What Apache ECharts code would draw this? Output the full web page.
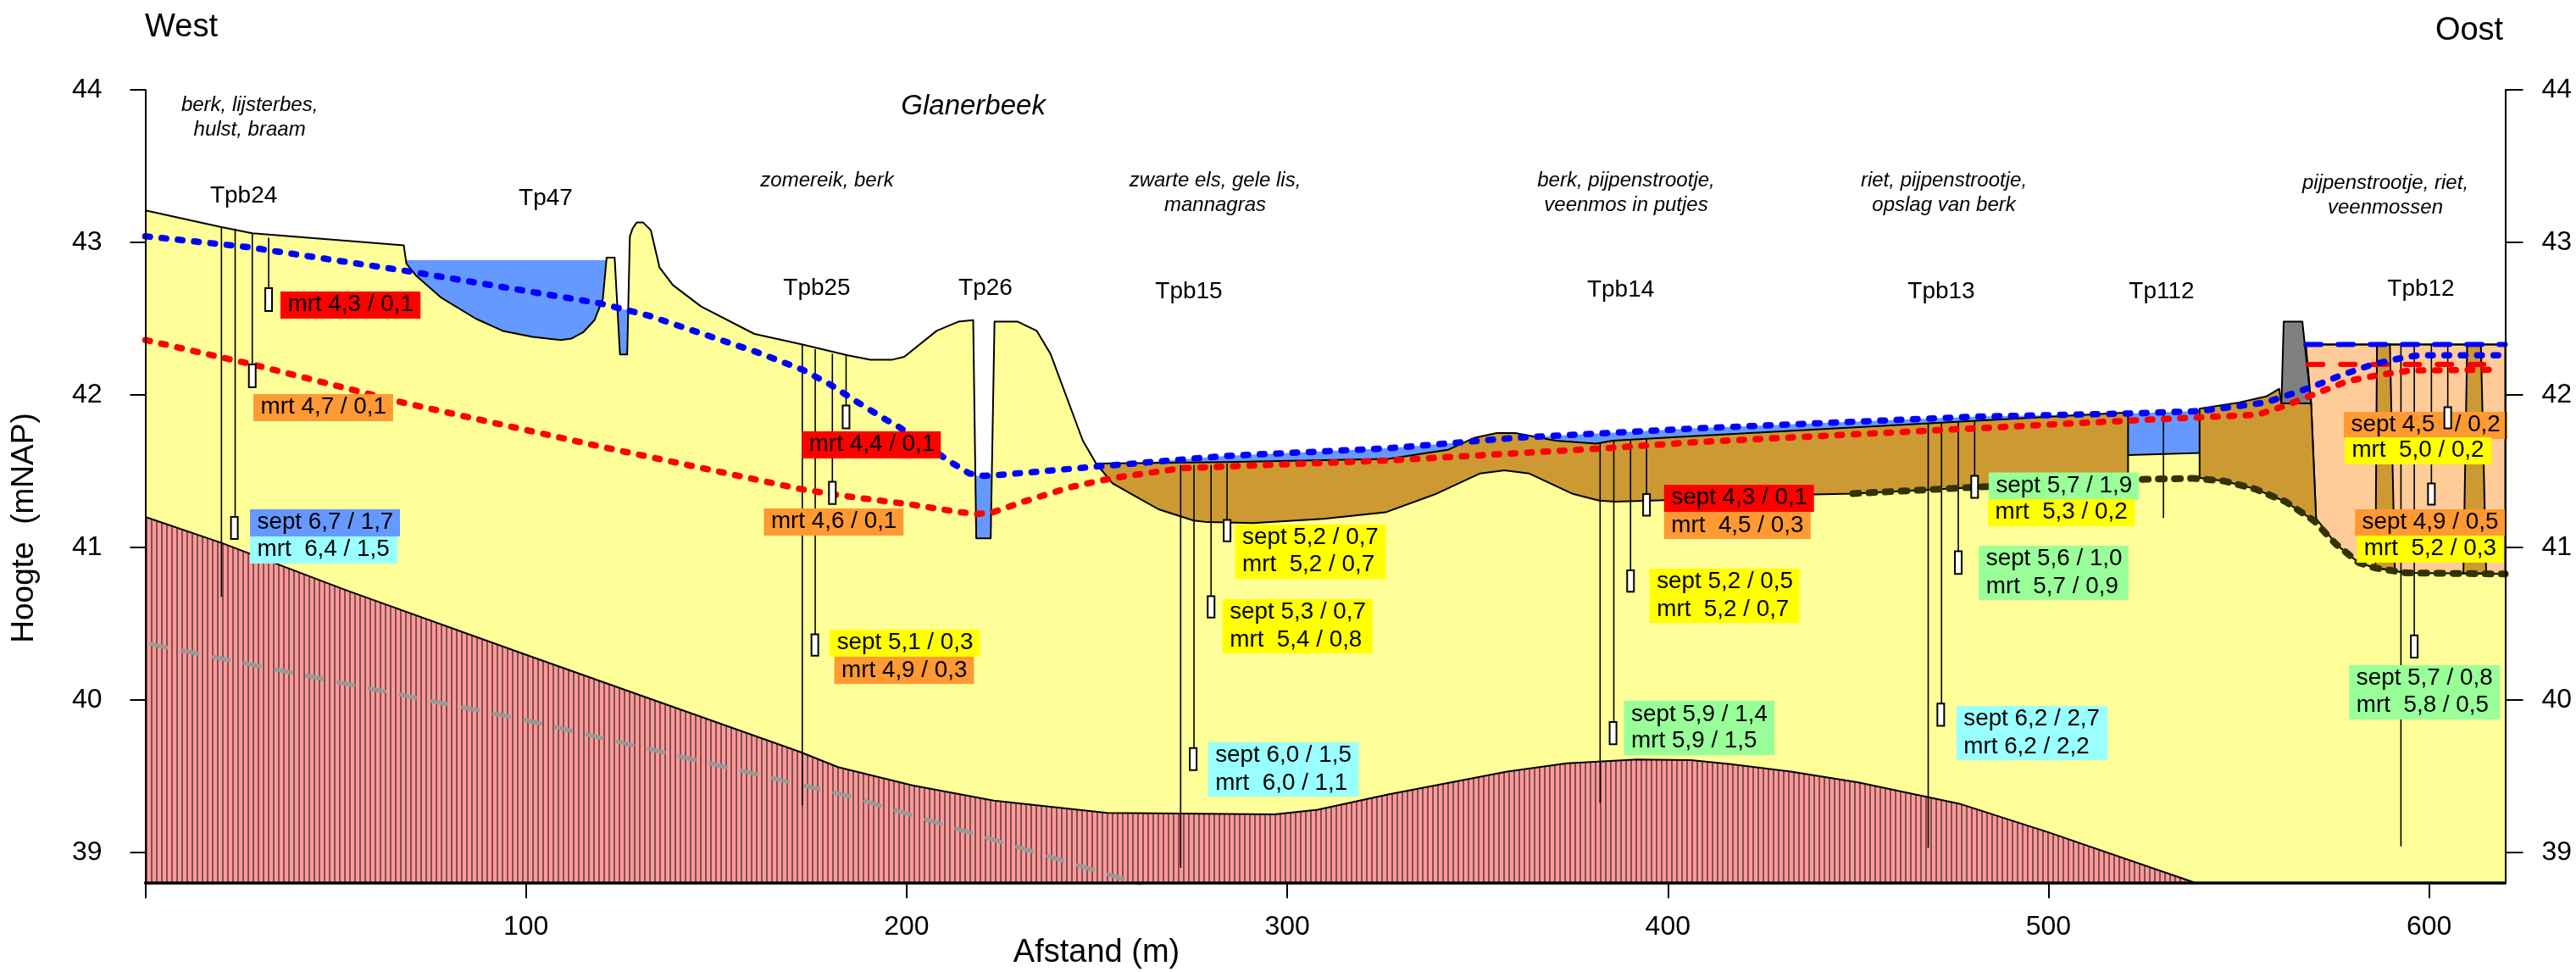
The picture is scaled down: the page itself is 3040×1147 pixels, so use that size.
<!DOCTYPE html>
<html><head><meta charset="utf-8">
<script src="https://cdn.jsdelivr.net/npm/echarts@6/dist/echarts.min.js"></script>
<style>html,body{margin:0;padding:0;background:#fff}#c{width:3040px;height:1147px}</style>
</head><body><div id="c"></div>
<script>
// ---- values: [distance m, height mNAP] ----
const xTicks = [0,100,200,300,400,500,600];
const xTickLabels = [100,200,300,400,500,600];
const yTicks = [39,40,41,42,43,44];
const surface = [[0,43.21],[20,43.10],[28.1,43.06],[67.9,42.98],[68.6,42.86],[71.2,42.78],[77.6,42.64],[86.8,42.50],[93.9,42.42],[101.7,42.38],[109.1,42.36],[112,42.37],[115,42.41],[118,42.49],[120.2,42.63],[121.2,42.90],[123.3,42.90],[124.7,42.265],[126.6,42.265],[127.3,43.04],[128,43.09],[129.1,43.13],[130.8,43.13],[132.8,43.08],[135.1,42.835],[138.6,42.72],[146,42.58],[160,42.40],[172.6,42.33],[184.5,42.26],[190.5,42.23],[196.1,42.23],[199.4,42.25],[207.9,42.42],[213.6,42.48],[217.5,42.49],[218.3,41.06],[222.1,41.06],[223.1,42.48],[229.2,42.48],[234.2,42.42],[237.8,42.27],[246.3,41.70],[249.8,41.55]];
const peatTopWest = [[249.8,41.55],[284,41.56],[326.5,41.58],[342.2,41.64],[349.3,41.72],[355,41.75],[359.9,41.75],[370.6,41.70],[381.2,41.68],[385.5,41.70],[407.2,41.73],[481,41.83],[520.9,41.885]];
const peatTopEast = [[539.7,41.91],[550.1,41.95],[557.2,41.99],[560.6,42.04],[561.2,41.944],[569,41.944]];
const peatBottomWest = [[249.8,41.55],[254.1,41.42],[259.8,41.34],[266.2,41.25],[275.4,41.176],[279,41.166],[291,41.16],[309.5,41.187],[325.8,41.23],[339.3,41.353],[350.7,41.485],[357.1,41.505],[363.5,41.485],[374.8,41.353],[382,41.307],[386.2,41.30],[399,41.31],[438.2,41.347],[448.6,41.353],[481,41.395],[520.9,41.44]];
const loamLine = [[448.6,41.353],[481,41.395],[525.4,41.447],[538,41.453],[546,41.436],[554.2,41.384],[562.3,41.30],[569.7,41.176],[575.6,41.02],[581.5,40.90],[585.9,40.865],[594,40.833],[620,40.826]];
const bedrock = [[0,41.2],[20,41.03],[52.7,40.72],[99.6,40.30],[172,39.66],[182,39.56],[201.5,39.44],[222.9,39.34],[252.7,39.26],[296.7,39.25],[308,39.28],[326.5,39.38],[357.8,39.53],[373.4,39.585],[391.9,39.61],[406,39.606],[416.1,39.58],[432.3,39.53],[450,39.46],[476.6,39.32],[500.3,39.13],[538.7,38.8]];
const greyLine = [[1.6,40.365],[99.6,39.87],[182,39.387],[186,39.36],[261.2,38.795]];
const groundwaterHigh = [[0,43.04],[26.7,42.97],[69.3,42.81],[119.5,42.60],[132.2,42.52],[160.7,42.28],[172.7,42.165],[179.8,42.07],[186.6,41.96],[194.4,41.84],[198,41.79],[208.6,41.61],[212.2,41.55],[216.5,41.485],[220,41.47],[224.3,41.475],[249.8,41.53],[283.9,41.60],[326.5,41.65],[360.6,41.72],[369,41.73],[407,41.78],[480.3,41.857],[520.9,41.878],[539.7,41.894],[557.1,41.95],[569,42.05],[577,42.13],[585.2,42.2],[593.3,42.245],[597.7,42.26],[620,42.26]];
const groundwaterLow = [[0,42.36],[28.1,42.2],[67.6,41.95],[118,41.67],[172.7,41.38],[184.5,41.335],[201.5,41.28],[214.3,41.23],[218.6,41.22],[222.6,41.23],[230.7,41.30],[243,41.395],[251.3,41.44],[255.5,41.46],[272.6,41.52],[326.5,41.57],[383.4,41.65],[407.2,41.69],[480.3,41.78],[520,41.83],[554.9,41.87],[562.3,41.93],[570.4,42.01],[578.5,42.09],[586.7,42.13],[595.1,42.16],[617,42.165]];
const perchedHigh = [[567.6,42.33],[620,42.33]];
const perchedLow = [[568.3,42.2],[616,42.2]];
const pond = [[68.7,42.883],[121,42.883],[120.2,42.63],[118,42.49],[115,42.41],[112,42.37],[109.1,42.36],[101.7,42.38],[93.9,42.42],[86.8,42.50],[77.6,42.64],[71.2,42.78],[68.6,42.86]];
const ditch47 = [[124,42.56],[126.86,42.56],[126.6,42.265],[124.7,42.265]];
const ditch26 = [[218.07,41.47],[222.4,41.47],[222.1,41.06],[218.3,41.06]];
const ditch112Bottom = [[539.7,41.62],[520.9,41.606]];
const dam = [[561.2,41.944],[561.8,42.48],[566.7,42.48],[569,41.944]];
const peatEdgeEast = [[569,41.944],[570.3,41.19]];
const basinTop = [[567.6,42.33],[620,42.33]];
const peatColumnA = [[586.3,42.33],[589.7,42.33],[591,40.85],[585.9,40.865]];
const peatColumnB = [[610,42.33],[613.6,42.33],[615,40.83],[609,40.83]];
// tubes: [distance, top, bottom]
const tubes = [[20,43.10,40.677],[23.6,43.09,41.1],[28.1,43.06,42.1],[32.4,43.03,42.6],
 [172.6,42.33,39.31],[176,42.30,40.35],[180.5,42.27,41.35],[184.1,42.26,41.85],
 [272,41.54,38.90],[275.5,41.54,39.6],[280,41.54,40.6],[284.2,41.55,41.1],
 [382.2,41.68,39.325],[385.8,41.70,39.8],[390.2,41.71,40.8],[394.4,41.72,41.3],
 [468.4,41.81,39.03],[471.9,41.815,39.9],[476.3,41.82,40.9],[480.6,41.83,41.4],
 [530.2,41.885,41.193],[592.6,42.33,39.04],[596.1,42.33,40.35],[600.6,42.33,41.35],[604.9,42.33,41.85]];
// filter screens: [distance, top, bottom]
const filters = [[23.4,41.2,41.056],[28.1,42.2,42.05],[32.4,42.70,42.55],
 [175.9,40.43,40.29],[180.5,41.43,41.285],[184.1,41.93,41.78],
 [275.3,39.685,39.54],[280,40.68,40.54],[284.2,41.18,41.04],
 [385.6,39.856,39.71],[390.2,40.85,40.71],[394.4,41.35,41.208],
 [471.7,39.976,39.83],[476.3,40.975,40.827],[480.6,41.47,41.325],
 [596.1,40.423,40.278],[600.6,41.42,41.28],[604.9,41.92,41.78]];
const readingTexts = ['mrt 4,3 / 0,1','mrt 4,7 / 0,1','sept 6,7 / 1,7','mrt  6,4 / 1,5','mrt 4,4 / 0,1','mrt 4,6 / 0,1','sept 5,1 / 0,3','mrt 4,9 / 0,3','sept 5,2 / 0,7','mrt  5,2 / 0,7','sept 5,3 / 0,7','mrt  5,4 / 0,8','sept 6,0 / 1,5','mrt  6,0 / 1,1','sept 4,3 / 0,1','mrt  4,5 / 0,3','sept 5,2 / 0,5','mrt  5,2 / 0,7','sept 5,9 / 1,4','mrt 5,9 / 1,5','sept 5,7 / 1,9','mrt  5,3 / 0,2','sept 5,6 / 1,0','mrt  5,7 / 0,9','sept 6,2 / 2,7','mrt 6,2 / 2,2','sept 5,7 / 0,8','mrt  5,8 / 0,5','sept 4,5   / 0,2','mrt  5,0 / 0,2','sept 4,9 / 0,5','mrt  5,2 / 0,3'];
const readingClasses = ['R','O','B','C','R','O','Y','O','Y','Y','Y','Y','C','C','R','O','Y','Y','G','G','G','Y','G','G','C','C','G','G','O','Y','O','Y'];
const siteNames = ['Tpb24','Tp47','Tpb25','Tp26','Tpb15','Tpb14','Tpb13','Tp112','Tpb12'];
const vegetation = ['berk, lijsterbes,\nhulst, braam','zomereik, berk','zwarte els, gele lis,\nmannagras','berk, pijpenstrootje,\nveenmos in putjes','riet, pijpenstrootje,\nopslag van berk','pijpenstrootje, riet,\nveenmossen'];

// ---- layout and style ----
const F='"Liberation Sans", Arial, sans-serif';
const classColor={R:'#FF0000',O:'#FF9933',Y:'#FFFF00',G:'#99FF99',C:'#99FFFF',B:'#6699FF'};
const readingBoxes=[[35.5,42.678,72.3],[28.4,42.006,65.1],[27.5,41.25,66.9],[27.5,41.072,66.3],[172.5,41.761,209],[162.5,41.256,199.2],[179.8,40.461,219.3],[181,40.283,217.7],[286.3,41.15,325.9],[286.3,40.972,325.9],[283,40.661,322.4],[283,40.483,322.4],[279.2,39.722,318.8],[279.2,39.544,318.8],[399,41.411,438.4],[399,41.233,437.5],[395.2,40.861,434.6],[395.2,40.683,434.6],[388.5,39.994,428],[388.5,39.817,428],[484.3,41.491,523.7],[484.1,41.317,522.6],[481.7,41.011,521],[481.7,40.833,521],[475.8,39.961,515.5],[475.8,39.783,515.5],[579,40.228,618.6],[579,40.05,618.6],[577.6,41.889,620.6],[577.8,41.722,616.4],[580.5,41.25,620.2],[581,41.078,619.5]];
const siteXY=[[287.6,231.5],[644,234],[964,340.6],[1163,340.6],[1403,344.4],[1912.6,342.5],[2291,344],[2551,344],[2857,341]];
const vegXY=[[294.6,139],[976,213],[1434,227.5],[1919,227.5],[2294,227.5],[2815,230.5]];

const hatch=document.createElement('canvas');hatch.width=6;hatch.height=6;
(function(){const g=hatch.getContext('2d');g.fillStyle='#FF9999';g.fillRect(0,0,6,6);g.fillStyle='#805050';g.fillRect(4,0,2,6);})();

function poly(name,pts,fill,stroke,z,lw){return {type:'custom',name,coordinateSystem:'cartesian2d',z,silent:true,animation:false,
  encode:{x:0,y:1},data:pts,
  renderItem:(p,api)=>p.dataIndex===0?{type:'polygon',shape:{points:pts.map(q=>api.coord(q))},style:{fill,stroke:stroke||null,lineWidth:lw||2,lineJoin:'round'}}:null};}
function line(name,data,color,width,z,dash,cap){return {type:'line',name,data,z,silent:true,animation:false,showSymbol:false,symbol:'none',
  lineStyle:{color,width,type:dash||'solid',cap:cap||'butt',join:'round'}};}
function area(name,data,fill,z){return {type:'line',name,data,z,silent:true,animation:false,showSymbol:false,symbol:'none',
  lineStyle:{width:0,opacity:0},areaStyle:{color:fill,opacity:1,origin:'start'}};}

const blueSheet=groundwaterHigh.filter(p=>p[0]>=249.8&&p[0]<=539.7).concat(ditch112Bottom,peatTopWest.slice().reverse());
const brownWest=peatTopWest.concat(peatBottomWest.slice().reverse());
const loamEast=loamLine.filter(p=>p[0]>=540&&p[0]<=570);
const brownEast=peatTopEast.concat(peatEdgeEast,loamEast.slice().reverse(),[[539.7,41.455]]);
const basinBottom=loamLine.filter(p=>p[0]>570);
const basin=[[567.6,42.33],[620,42.33]].concat(basinBottom.slice().reverse(),[[570.3,41.19],[569,41.944]]);
const sandTop=surface.concat(peatTopWest.slice(1),peatTopEast,[[570.3,41.19]],basinBottom);

const dots=[5.5,13.8];
const series=[
 area('Dekzand',sandTop,'#FFFF99',1),
 area('Keileem',bedrock,{image:hatch,repeat:'repeat'},2),
 line('Keileem top',bedrock,'#000',2,3),
 line('Grijze lijn',greyLine,'#999999',5,3,[18,19.5],'round'),
 poly('Tp47 water',pond,'#6699FF',null,4),
 poly('Sloot',ditch47,'#6699FF',null,4),
 poly('Tp26 water',ditch26,'#6699FF',null,4),
 poly('Oppervlaktewater',blueSheet,'#6699FF',null,4),
 poly('Basin',basin,'#FFCC99','#000',4,2),
 poly('Veen west',brownWest,'#CC9933','#000',5,2),
 poly('Veen oost',brownEast,'#CC9933','#000',5,2),
 poly('Veenkolom A',peatColumnA,'#CC9933','#000',5,2),
 poly('Veenkolom B',peatColumnB,'#CC9933','#000',5,2),
 line('Maaiveld',surface,'#000',2,6),
 line('Basin top',basinTop,'#000',2,6),
 line('Slootbodem',ditch112Bottom,'#000',2,6),
 poly('Dam',dam,'#808080','#000',6,2),
 {type:'custom',name:'Peilbuizen',coordinateSystem:'cartesian2d',z:7,silent:true,animation:false,encode:{x:0,y:[1,2]},data:tubes,
  renderItem:(p,api)=>{const a=api.coord([api.value(0),api.value(1)]),b=api.coord([api.value(0),api.value(2)]);
   return {type:'line',shape:{x1:a[0],y1:a[1],x2:b[0],y2:b[1]},style:{stroke:'#000',lineWidth:1.6}};}},
 line('Leem',loamLine,'#333300',8,8,[7,12],'round'),
 line('Stijghoogte laag',groundwaterLow,'#FF0000',7.5,8,dots,'round'),
 line('Stijghoogte hoog',groundwaterHigh,'#0000FF',7.5,9,dots,'round'),
 line('Schijngrondwater laag',perchedLow,'#FF0000',6,8,[17,21],'round'),
 line('Schijngrondwater hoog',perchedHigh,'#0000FF',6,9,[18,20],'round'),
 {type:'custom',name:'Metingen',coordinateSystem:'cartesian2d',z:10,silent:true,animation:false,encode:{x:0,y:1},data:readingBoxes,
  renderItem:(p,api)=>{const i=p.dataIndex,a=api.coord([api.value(0),api.value(1)]),r=api.coord([api.value(2),api.value(1)]);
   return {type:'group',children:[
    {type:'rect',shape:{x:a[0],y:a[1],width:r[0]-a[0],height:32},style:{fill:classColor[readingClasses[i]]}},
    {type:'text',x:a[0]+8.5,y:a[1]+16,scaleX:1.03,style:{text:readingTexts[i],font:'27px '+F,fill:'#000',align:'left',verticalAlign:'middle'}}]};}},
 {type:'custom',name:'Filters',coordinateSystem:'cartesian2d',z:11,silent:true,animation:false,encode:{x:0,y:[1,2]},data:filters,
  renderItem:(p,api)=>{const a=api.coord([api.value(0),api.value(1)]),b=api.coord([api.value(0),api.value(2)]);
   return {type:'rect',shape:{x:a[0]-4,y:a[1],width:8,height:b[1]-a[1]},style:{fill:'#fff',stroke:'#000',lineWidth:2}};}}
];

const graphicTexts=[];
function addText(text,x,y,font){graphicTexts.push({type:'text',x,y,z:30,silent:true,
  style:{text,font,fill:'#000',align:'center',verticalAlign:'middle',lineHeight:29}});}
addText('West',214,33,'38px '+F);
addText('Oost',2914,37,'38px '+F);
addText('Glanerbeek',1148.6,125.5,'italic 33px '+F);
siteNames.forEach((t,i)=>addText(t,siteXY[i][0],siteXY[i][1],'28px '+F));
vegetation.forEach((t,i)=>addText(t,vegXY[i][0],vegXY[i][1],'italic 24px '+F));

const yBase={type:'value',min:38.8,max:44,splitLine:{show:false},z:20,
  axisLine:{show:true,onZero:false,lineStyle:{color:'#000',width:2}},
  axisLabel:{show:true,customValues:yTicks,color:'#000',fontFamily:F,fontSize:32},
  axisTick:{show:true,customValues:yTicks,lineStyle:{color:'#000',width:2}}};
const option={
 animation:false,backgroundColor:'#fff',
 grid:{left:171.5,right:83.5,top:106,bottom:105,containLabel:false,outerBoundsMode:'none'},
 xAxis:{type:'value',min:0,max:620,splitLine:{show:false},z:20,
  name:'Afstand (m)',nameLocation:'middle',nameGap:64,nameMoveOverlap:false,
  nameTextStyle:{color:'#000',fontFamily:F,fontSize:38,padding:[0,540,0,0]},
  axisLine:{show:true,onZero:false,lineStyle:{color:'#000',width:3.5}},
  axisTick:{show:true,customValues:xTicks,length:18,lineStyle:{color:'#000',width:2}},
  axisLabel:{show:true,customValues:xTickLabels,color:'#000',fontFamily:F,fontSize:32,margin:36}},
 yAxis:[
  Object.assign({},yBase,{position:'left',name:'Hoogte  (mNAP)',nameLocation:'middle',nameGap:124,nameRotate:90,nameMoveOverlap:false,
    nameTextStyle:{color:'#000',fontFamily:F,fontSize:37,padding:[0,98,0,0]},
    axisLabel:Object.assign({},yBase.axisLabel,{margin:51}),axisTick:Object.assign({},yBase.axisTick,{length:18})}),
  Object.assign({},yBase,{position:'right',
    axisLabel:Object.assign({},yBase.axisLabel,{margin:43}),axisTick:Object.assign({},yBase.axisTick,{length:21})})
 ],
 graphic:{elements:graphicTexts},
 series
};
const chart=echarts.init(document.getElementById('c'),null,{renderer:'canvas'});
chart.setOption(option);
</script></body></html>
